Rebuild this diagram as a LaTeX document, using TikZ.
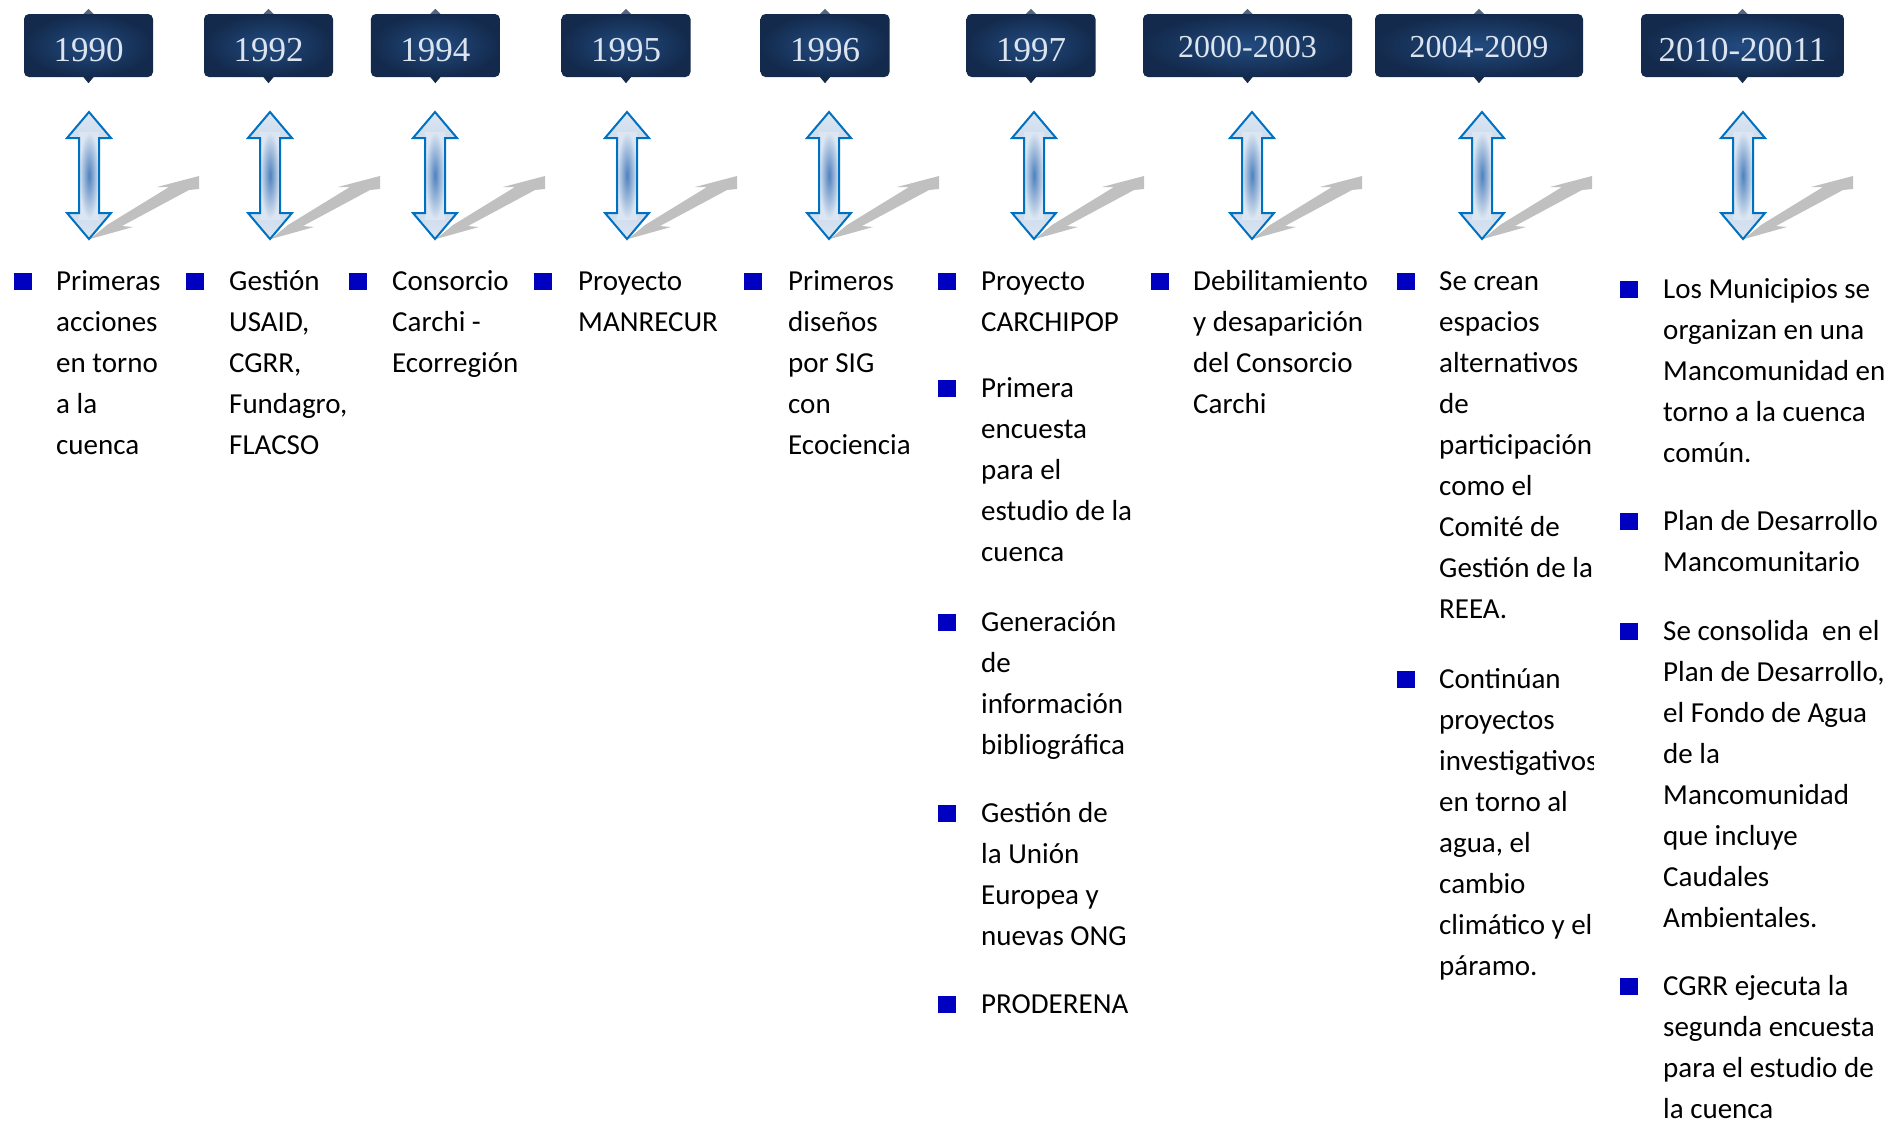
\documentclass[tikz,border=0pt]{standalone}
\usepackage{fontspec}
\usepackage{graphicx}
\setmainfont{Carlito}
\newfontfamily\yearfont{Liberation Serif}
\definecolor{navyedge}{HTML}{132A4C}
\definecolor{navymid}{HTML}{224B80}
\definecolor{navytop}{HTML}{56687F}
\definecolor{yeartext}{HTML}{DCE4F0}
\definecolor{arrline}{HTML}{0070C0}
\definecolor{arrlight}{HTML}{DCE6F2}
\definecolor{arrmid}{HTML}{B9CDE5}
\definecolor{arrdark}{HTML}{4F81BD}
\definecolor{shadowgray}{HTML}{C0C0C0}
\definecolor{bulletblue}{HTML}{0000C0}
\newcommand\itemlines[1]{\begin{tabular}[t]{@{}l@{}}#1\end{tabular}}
\begin{document}
\begin{tikzpicture}[x=1pt,y=-1pt,
  yearbox/.style={rectangle, rounded corners=5pt, inner color=navymid, outer color=navyedge,
    minimum height=63pt, minimum width=129pt, inner sep=0pt, text=yeartext,
    font=\yearfont\fontsize{35}{35}\selectfont, text height=31pt, text depth=0pt},
  rangebox/.style={yearbox, font=\yearfont\fontsize{32}{32}\selectfont, text height=23pt},
  bul/.style={rectangle, fill=bulletblue, minimum width=18pt, minimum height=17pt, inner sep=0pt},
  itemtext/.style={anchor=base west, inner sep=0pt, text=black, font=\fontsize{29}{41}\selectfont},
  dblarrow/.pic={
    \fill[shadowgray] (1,239) -- (44,227) -- (33,226) -- (100,190) -- (110,189) -- (110,176)
      -- (68,187) -- (80,187) -- (18,225) -- cycle;
    \fill[top color=arrlight, bottom color=arrlight, middle color=arrmid]
      (0,112) -- (22,138) -- (10,138) -- (10,213) -- (22,213) -- (0,239) -- (-22,213)
      -- (-10,213) -- (-10,138) -- (-22,138) -- cycle;
    \fill[inner color=arrdark, outer color=arrlight] (-10,132) rectangle (10,219);
    \draw[arrline, line width=2pt, line join=miter]
      (0,112) -- (22,138) -- (10,138) -- (10,213) -- (22,213) -- (0,239) -- (-22,213)
      -- (-10,213) -- (-10,138) -- (-22,138) -- cycle;
  }
]
\useasboundingbox (0,0) rectangle (1891,1125);

% year boxes
\node[yearbox] (y1) at (88.5,45.5) {1990};
\node[yearbox] (y2) at (268.5,45.5) {1992};
\node[yearbox] (y3) at (435.4,45.5) {1994};
\node[yearbox] (y4) at (626,45.5) {1995};
\node[yearbox] (y5) at (825,45.5) {1996};
\node[yearbox] (y6) at (1031,45.5) {1997};
\node[rangebox, minimum width=209pt] (y7) at (1247.5,45.5) {2000-2003};
\node[rangebox, minimum width=208pt] (y8) at (1479,45.5) {2004-2009};
\node[yearbox, minimum width=203pt] (y9) at (1742.5,45.5) {2010-20011};

\foreach \n in {y1,y2,y3,y4,y5,y6,y7,y8,y9}{
  \fill[navyedge] ([xshift=-5pt]\n.south) -- ([xshift=5pt]\n.south) -- ([yshift=-6pt]\n.south) -- cycle;
  \fill[navytop] ([xshift=-5pt]\n.north) -- ([xshift=5pt]\n.north) -- ([yshift=5pt]\n.north) -- cycle;
}

% double arrows with shadows
\foreach \cx in {89,270,435,627,829,1034,1252,1482,1743}{
  \pic at (\cx,0) {dblarrow};
}

% column 1
\node[bul] (b1a) at (23,281) {};
\node[itemtext] (t1a) at (56,290) {\itemlines{Primeras\\acciones\\en torno\\a la\\cuenca}};
% column 2
\node[bul] (b2a) at (195,281) {};
\node[itemtext] (t2a) at (229,290) {\itemlines{Gestión\\USAID,\\CGRR,\\Fundagro,\\FLACSO}};
% column 3
\node[bul] (b3a) at (358,281) {};
\node[itemtext] (t3a) at (392,290) {\itemlines{Consorcio\\Carchi -\\Ecorregión}};
% column 4
\node[bul] (b4a) at (543,281) {};
\node[itemtext] (t4a) at (578,290) {\itemlines{Proyecto\\MANRECUR}};
% column 5
\node[bul] (b5a) at (753,281) {};
\node[itemtext] (t5a) at (788,290) {\itemlines{Primeros\\diseños\\por SIG\\con\\Ecociencia}};
% column 6
\node[bul] (b6a) at (946.5,281) {};
\node[itemtext] (t6a) at (981,290) {\itemlines{Proyecto\\CARCHIPOP}};
\node[bul] (b6b) at (946.5,388) {};
\node[itemtext] (t6b) at (981,397) {\itemlines{Primera\\encuesta\\para el\\estudio de la\\cuenca}};
\node[bul] (b6c) at (946.5,622) {};
\node[itemtext] (t6c) at (981,631) {\itemlines{Generación\\de\\información\\bibliográfica}};
\node[bul] (b6d) at (946.5,813) {};
\node[itemtext] (t6d) at (981,822) {\itemlines{Gestión de\\la Unión\\Europea y\\nuevas ONG}};
\node[bul] (b6e) at (946.5,1004) {};
\node[itemtext] (t6e) at (981,1013) {\itemlines{PRODERENA}};
% column 7
\node[bul] (b7a) at (1159.5,281) {};
\node[itemtext] (t7a) at (1193,290) {\itemlines{Debilitamiento\\y desaparición\\del Consorcio\\Carchi}};
% column 8
\node[bul] (b8a) at (1405.5,281) {};
\node[itemtext] (t8a) at (1439,290) {\itemlines{Se crean\\espacios\\alternativos\\de\\participación\\como el\\Comité de\\Gestión de la\\REEA.}};
\node[bul] (b8b) at (1405.5,679) {};
\begin{scope}
  \clip (1380,600) rectangle (1593,1125);
  \node[itemtext] (t8b) at (1439,688) {\itemlines{Continúan\\proyectos\\investigativos\\en torno al\\agua, el\\cambio\\climático y el\\páramo.}};
\end{scope}
% column 9
\node[bul] (b9a) at (1629,289) {};
\node[itemtext] (t9a) at (1663,298) {\itemlines{Los Municipios se\\organizan en una\\Mancomunidad en\\torno a la cuenca\\común.}};
\node[bul] (b9b) at (1629,521) {};
\node[itemtext] (t9b) at (1663,530) {\itemlines{Plan de Desarrollo\\Mancomunitario}};
\node[bul] (b9c) at (1629,631) {};
\node[itemtext] (t9c) at (1663,640) {\itemlines{Se consolida\ \ en el\\Plan de Desarrollo,\\el Fondo de Agua\\de la\\Mancomunidad\\que incluye\\Caudales\\Ambientales.}};
\node[bul] (b9d) at (1629,986) {};
\node[itemtext] (t9d) at (1663,995) {\itemlines{CGRR ejecuta la\\segunda encuesta\\para el estudio de\\la cuenca}};
\end{tikzpicture}
\end{document}
